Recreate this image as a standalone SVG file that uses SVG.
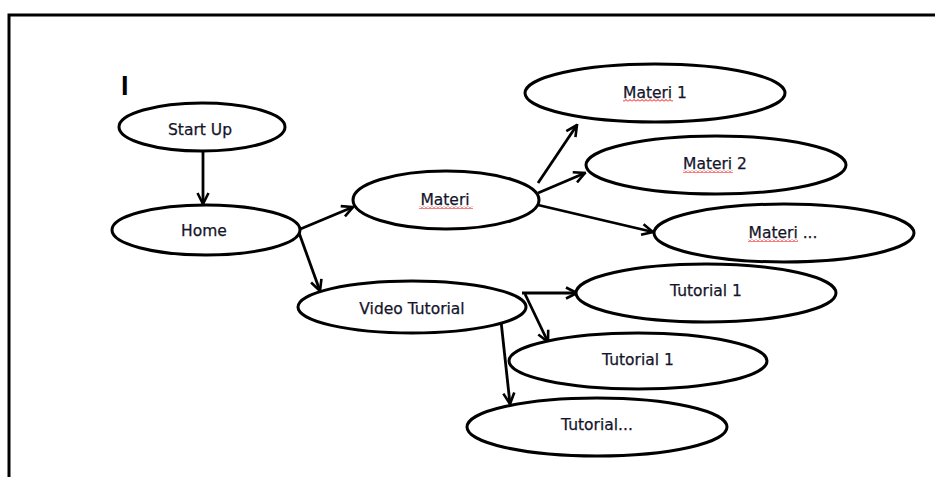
<svg xmlns="http://www.w3.org/2000/svg" width="935" height="477" viewBox="0 0 935 477">
<style>
.node ellipse{fill:#fff;stroke:#000;stroke-width:3}
.node text{font-family:"DejaVu Sans",Verdana,sans-serif;font-size:15.5px;fill:#14142a;text-anchor:middle;stroke:#14142a;stroke-width:0.25}
.conn line{stroke:#000;stroke-width:2.8;fill:none;marker-end:url(#arr)}
.sq{fill:url(#wave)}
</style>
<defs>
<marker id="arr" viewBox="0 0 14 14" refX="12.5" refY="7" markerWidth="14" markerHeight="14" markerUnits="userSpaceOnUse" orient="auto">
<path d="M1.5,1.5 L12.5,7 L1.5,12.5" fill="none" stroke="#000" stroke-width="2.6"/>
</marker>
<pattern id="wave" width="4" height="3" patternUnits="userSpaceOnUse">
<path d="M0,2.5 L2,0.5 L4,2.5" fill="none" stroke="#e00" stroke-width="1"/>
</pattern>
</defs>
<rect width="935" height="477" fill="#fff"/>
<polyline id="frame" points="935,15 9,15 9,477" fill="none" stroke="#000" stroke-width="3"/>
<text x="121" y="95" font-family="Liberation Sans,Arial,sans-serif" font-size="27" font-weight="bold" fill="#000">I</text>
<g class="conn">
<line x1="203" y1="152" x2="203" y2="204"/>
<line x1="298" y1="230" x2="353" y2="207"/>
<line x1="298" y1="230" x2="320" y2="291"/>
<line x1="538" y1="183" x2="577" y2="125"/>
<line x1="538" y1="193" x2="585" y2="173"/>
<line x1="538" y1="205" x2="653" y2="232"/>
<line x1="522" y1="293" x2="577" y2="293"/>
<line x1="525" y1="294" x2="548" y2="342"/>
<line x1="501" y1="321" x2="510" y2="404"/>
</g>
<g id="startup" class="node"><ellipse cx="202" cy="127" rx="83" ry="24"/><text x="200" y="135">Start Up</text></g>
<g id="home" class="node"><ellipse cx="206" cy="230" rx="94" ry="25"/><text x="204" y="236">Home</text></g>
<g id="materi" class="node"><ellipse cx="446" cy="200" rx="93" ry="29"/><text x="445" y="205">Materi</text><rect class="sq" x="419" y="206" width="54" height="3"/></g>
<g id="materi1" class="node"><ellipse cx="655" cy="93" rx="130" ry="29"/><text x="655" y="98">Materi 1</text><rect class="sq" x="623" y="99" width="50" height="3"/></g>
<g id="materi2" class="node"><ellipse cx="716" cy="165" rx="130" ry="29"/><text x="715" y="169">Materi 2</text><rect class="sq" x="683" y="170" width="50" height="3"/></g>
<g id="materi3" class="node"><ellipse cx="784" cy="233" rx="130" ry="29"/><text x="783" y="238">Materi ...</text><rect class="sq" x="748" y="239" width="50" height="3"/></g>
<g id="video" class="node"><ellipse cx="412" cy="307" rx="114" ry="26"/><text x="412" y="314">Video Tutorial</text></g>
<g id="tut1" class="node"><ellipse cx="706" cy="293" rx="130" ry="29"/><text x="706" y="296">Tutorial 1</text></g>
<g id="tut2" class="node"><ellipse cx="638" cy="361" rx="129" ry="28"/><text x="638" y="365">Tutorial 1</text></g>
<g id="tut3" class="node"><ellipse cx="597" cy="427" rx="130" ry="29"/><text x="597" y="430">Tutorial...</text></g>
</svg>
